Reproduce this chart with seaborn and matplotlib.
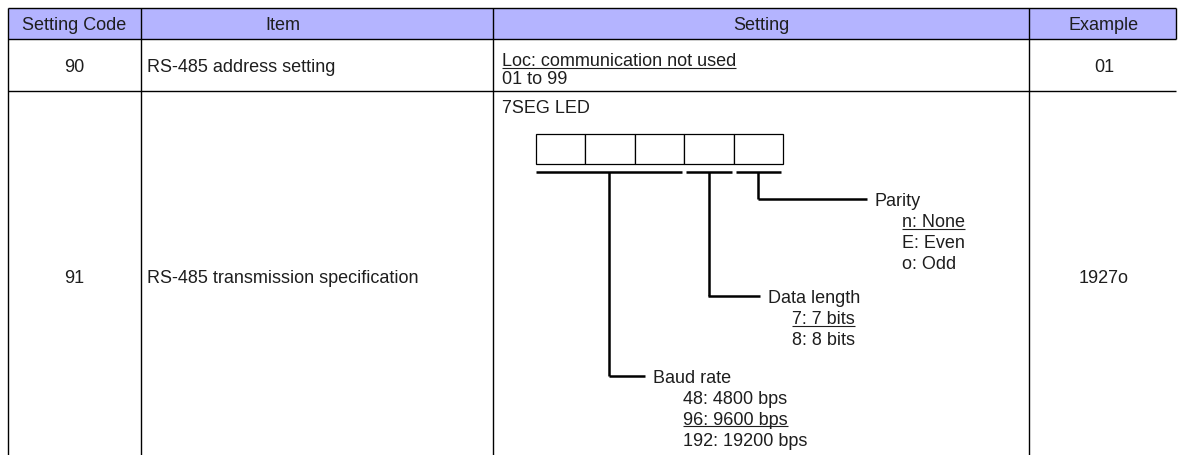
import matplotlib
matplotlib.use("Agg")
import matplotlib.pyplot as plt
import seaborn as sns

# table content
columns = ["Setting Code", "Item", "Setting", "Example"]
codes = ["90", "91"]
items = ["RS-485 address setting", "RS-485 transmission specification"]
examples = ["01", "1927o"]
address_lines = ["Loc: communication not used", "01 to 99"]
address_default = 0
led_label = "7SEG LED"
digit_count = 5

# segment groups of the 7SEG display: (first digit, last digit + 1)
baud_digits = (0, 3)
data_digits = (3, 4)
parity_digits = (4, 5)

parity_title = "Parity"
parity_options = ["n: None", "E: Even", "o: Odd"]
parity_default = 0
data_title = "Data length"
data_options = ["7: 7 bits", "8: 8 bits"]
data_default = 0
baud_title = "Baud rate"
baud_options = ["48: 4800 bps", "96: 9600 bps", "192: 19200 bps"]
baud_default = 1

sns.set_theme(style="white")
plt.rcParams['font.family'] = ['Liberation Sans', 'DejaVu Sans']

W, H = 1178, 456
FS = 13
TXT = "#1e1e1e"
HEAD = "#b4b4ff"

fig = plt.figure(figsize=(W / 100, H / 100), dpi=100)
ax = fig.add_axes([0, 0, 1, 1])
ax.set_xlim(0, W)
ax.set_ylim(H, 0)
ax.axis('off')
renderer = fig.canvas.get_renderer()


def put(x, y, s, under=False, ha='left'):
    # y is the visual centre of the text line
    t = ax.text(x, y + 6.5, s, ha=ha, va='baseline', fontsize=FS, color=TXT)
    if under:
        bb = t.get_window_extent(renderer).transformed(ax.transData.inverted())
        ax.plot([bb.x0, bb.x1], [y + 8.5, y + 8.5], color=TXT, lw=0.8,
                solid_capstyle='butt')
    return t


def hline(x0, x1, y, lw=1.0):
    ax.plot([x0, x1], [y, y], color='black', lw=lw, solid_capstyle='butt')


def vline(x, y0, y1, lw=1.0):
    ax.plot([x, x], [y0, y1], color='black', lw=lw, solid_capstyle='butt')


# grid
col_x = [8, 141, 493, 1029, 1176]
head_top, head_bot = 9, 40
row_y = [40, 92, 470]

ax.add_patch(plt.Rectangle((col_x[0], head_top), col_x[-1] - col_x[0],
                           head_bot - head_top, facecolor=HEAD, edgecolor='none'))
hline(col_x[0], col_x[-1], head_top)
for y in row_y[:2]:
    hline(col_x[0], col_x[-1], y)
for x in col_x[:-1]:
    vline(x, head_top, H + 2)
vline(col_x[-1], head_top, head_bot)

head_x = [74, 283, 761, 1104]
for x, s in zip(head_x, columns):
    put(x, 24, s, ha='center')

# row texts
row_mid = [66, 277]
for i in range(2):
    put(74, row_mid[i], codes[i], ha='center')
    put(147, row_mid[i], items[i])
    put(1104, row_mid[i], examples[i], ha='center')

set_x = 502
put(set_x, 60, address_lines[0], under=address_default == 0)
put(set_x, 77, address_lines[1], under=address_default == 1)
put(set_x, 107, led_label)

# digit boxes
bx0, bw, by0, by1 = 536, 49.4, 135, 165
for i in range(digit_count):
    ax.add_patch(plt.Rectangle((bx0 + i * bw, by0), bw, by1 - by0,
                               facecolor='white', edgecolor='black', lw=0.9))


def branch(digits, y_conn, x_text, indent, title, options, default):
    a = bx0 + digits[0] * bw + (0 if digits[0] == 0 else 2)
    b = bx0 + digits[1] * bw - 2
    hline(a, b, 173, lw=1.8)
    xm = (a + b) / 2
    vline(xm, 173, y_conn, lw=1.8)
    hline(xm - 0.6, x_text - 8, y_conn, lw=1.8)
    put(x_text, y_conn, title)
    for k, opt in enumerate(options):
        put(x_text + indent, y_conn + 21 * (k + 1), opt, under=k == default)


branch(parity_digits, 200, 875, 27, parity_title, parity_options, parity_default)
branch(data_digits, 297, 768, 24, data_title, data_options, data_default)
branch(baud_digits, 377, 653, 30, baud_title, baud_options, baud_default)

fig.savefig("out.png", dpi=100)
